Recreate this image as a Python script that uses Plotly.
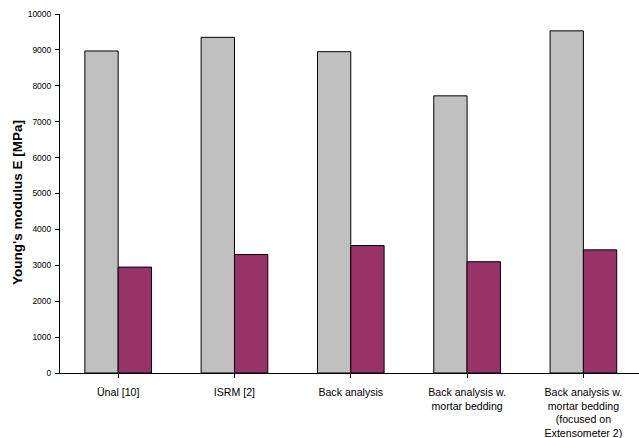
import plotly.graph_objects as go

# Young's modulus estimates per method
categories = [
    "Ünal [10]",
    "ISRM [2]",
    "Back analysis",
    "Back analysis w.<br>mortar bedding",
    "Back analysis w.<br>mortar bedding<br>(focused on<br>Extensometer 2)",
]
e_series_1 = [8970, 9350, 8950, 7720, 9530]
e_series_2 = [2950, 3300, 3550, 3100, 3430]
y_ticks = [0, 1000, 2000, 3000, 4000, 5000, 6000, 7000, 8000, 9000, 10000]
y_title = "Young's modulus E [MPa]"

x_pos = list(range(len(categories)))

fig = go.Figure()
fig.add_trace(go.Bar(
    x=x_pos, y=e_series_1,
    marker=dict(color="#C0C0C0", line=dict(color="#000000", width=1)),
    showlegend=False,
))
fig.add_trace(go.Bar(
    x=x_pos, y=e_series_2,
    marker=dict(color="#993366", line=dict(color="#000000", width=1)),
    showlegend=False,
))

fig.update_layout(
    width=639, height=438,
    margin=dict(l=60, r=0, t=14, b=65),
    paper_bgcolor="white", plot_bgcolor="white",
    barmode="group", bargap=0.427, bargroupgap=0,
    font=dict(family="Liberation Sans, Arial, sans-serif", color="#000000"),
)

fig.update_xaxes(
    tickmode="array", tickvals=x_pos, ticktext=categories,
    range=[-0.5, 4.478],
    showline=True, linecolor="#000000", linewidth=1,
    ticks="outside", ticklen=4, tickcolor="#000000", tickson="boundaries",
    tickfont=dict(size=10.6),
    ticklabelstandoff=5,
    showgrid=False, zeroline=False, automargin=False,
)
fig.update_yaxes(
    range=[0, 10000],
    tickmode="array", tickvals=y_ticks, ticktext=[str(v) for v in y_ticks],
    showline=True, linecolor="#000000", linewidth=1,
    ticks="outside", ticklen=4, tickcolor="#000000",
    tickfont=dict(size=8.5),
    ticklabelstandoff=2,
    showgrid=False, zeroline=False, automargin=False,
)

# Rotated axis title, placed to the left of the tick labels
fig.add_annotation(
    text=f"<b>{y_title}</b>", textangle=-90,
    xref="paper", yref="paper", x=-43 / 579, y=0.4735,
    xanchor="center", yanchor="middle", showarrow=False,
    font=dict(size=13.5),
)

fig.write_html("out.html")
